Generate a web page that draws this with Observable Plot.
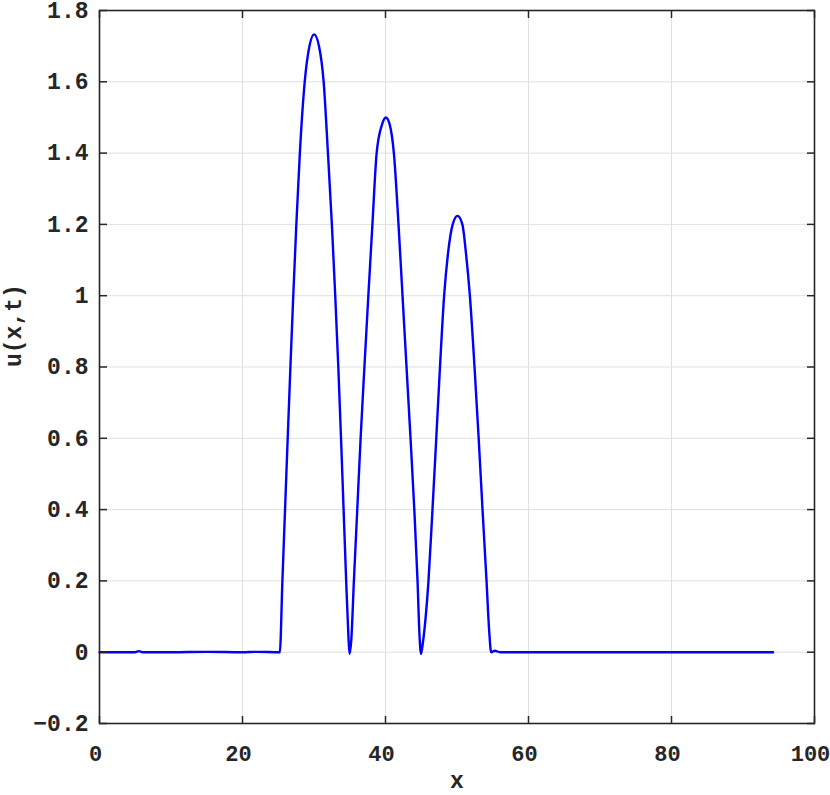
<!DOCTYPE html>
<html>
<head>
<meta charset="utf-8">
<script src="https://cdn.jsdelivr.net/npm/d3@7"></script>
<script src="https://cdn.jsdelivr.net/npm/@observablehq/plot@0.6"></script>
<style>
  html, body { margin: 0; padding: 0; background: #fff; }
  #chart svg { display: block; }
</style>
</head>
<body>
<div id="chart"></div>
<script>
// Solution samples
const xs = [0, 5, 5.5, 6, 10, 15, 20, 22, 25.22,
  25.58, 25.95, 26.32, 26.7, 27.1, 27.53, 28.02, 28.7, 29.36, 30.02, 30.7, 31.35, 31.95, 32.5, 32.97, 33.4, 33.78, 34.14, 34.5, 34.78, 34.97,
  35.2, 35.58, 36.05, 36.52, 37.05, 37.6, 38.17, 38.76, 39.51, 40.05, 40.59, 41.17, 41.82, 42.38, 42.94, 43.5, 44.03, 44.48, 44.75, 44.97,
  45.25, 46.01, 46.57, 47.1, 47.62, 48.2, 48.75, 49.4, 50.07, 50.75, 51.25, 51.8, 52.45, 53.03, 53.57, 54.13, 54.5, 54.78,
  55.3, 56, 70, 94.2];
const us = [0, 0, 0.003, 0, 0, 0.001, 0, 0.001, 0,
  0.2, 0.4, 0.6, 0.8, 1.0, 1.2, 1.4, 1.6, 1.7, 1.733, 1.7, 1.6, 1.4, 1.2, 1.0, 0.8, 0.6, 0.4, 0.2, 0.06, -0.005,
  0.03, 0.2, 0.4, 0.6, 0.8, 1.0, 1.2, 1.4, 1.48, 1.5, 1.48, 1.4, 1.2, 1.0, 0.8, 0.6, 0.4, 0.2, 0.05, -0.005,
  0.03, 0.2, 0.4, 0.6, 0.8, 1.0, 1.12, 1.2, 1.224, 1.2, 1.12, 1.0, 0.8, 0.6, 0.4, 0.2, 0.06, 0,
  0.004, 0, 0, 0];

const xTicks = [0, 20, 40, 60, 80, 100];
const yTicks = [-0.2, 0, 0.2, 0.4, 0.6, 0.8, 1, 1.2, 1.4, 1.6, 1.8];
const xLabel = "x";
const yLabel = "u(x,t)";

const data = xs.map((x, i) => ({x, u: us[i]}));

const FONT = "'Liberation Mono', 'Courier New', monospace";
const AX = "#262626";
const GRID = "#e0e0e0";
const fmtY = d => String(Math.round(d * 10) / 10).replace("-", "\u2212");
const blank = () => "";

const chart = Plot.plot({
  width: 830,
  height: 795,
  marginLeft: 99,
  marginRight: 16,
  marginTop: 10,
  marginBottom: 72,
  style: {fontFamily: FONT, fontSize: "23px", fontWeight: "bold", color: AX, background: "#fff"},
  x: {domain: [0, 100]},
  y: {domain: [-0.2, 1.8]},
  marks: [
    Plot.gridX(xTicks, {stroke: GRID, strokeOpacity: 1, strokeWidth: 1}),
    Plot.gridY(yTicks, {stroke: GRID, strokeOpacity: 1, strokeWidth: 1}),
    Plot.line(data, {x: "x", y: "u", stroke: "#0000ff", strokeWidth: 2.4, curve: "monotone-x"}),
    Plot.frame({stroke: AX, strokeWidth: 1.6}),
    // inward tick marks on all four sides
    Plot.axisX(xTicks, {anchor: "bottom", tickSize: -7, stroke: AX, strokeWidth: 1.5, label: null, tickFormat: blank}),
    Plot.axisX(xTicks, {anchor: "top", tickSize: -7, stroke: AX, strokeWidth: 1.5, label: null, tickFormat: blank}),
    Plot.axisY(yTicks, {anchor: "left", tickSize: -8, stroke: AX, strokeWidth: 1.5, label: null, tickFormat: blank}),
    Plot.axisY(yTicks, {anchor: "right", tickSize: -8, stroke: AX, strokeWidth: 1.5, label: null, tickFormat: blank}),
    // tick labels
    Plot.axisX(xTicks, {anchor: "bottom", tickSize: 0, tickPadding: 22, dx: -4, fill: AX, fontSize: 22, label: null, tickFormat: d => String(d)}),
    Plot.axisY(yTicks, {anchor: "left", tickSize: 0, tickPadding: 11, fill: AX, label: null, tickFormat: fmtY}),
    Plot.text([xLabel], {frameAnchor: "bottom", dy: 57, lineAnchor: "middle", fill: AX, fontWeight: "bold", fontSize: 23}),
    Plot.text([yLabel], {frameAnchor: "left", dx: -86, rotate: -90, lineAnchor: "middle", fill: AX, fontWeight: "bold", fontSize: 23})
  ]
});
document.getElementById("chart").appendChild(chart);
</script>
</body>
</html>
